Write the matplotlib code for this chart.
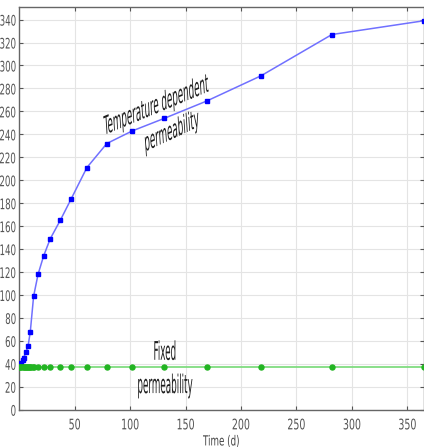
import matplotlib
matplotlib.use("Agg")
import matplotlib.pyplot as plt
from matplotlib import font_manager
from matplotlib.patheffects import AbstractPathEffect
from matplotlib.transforms import Affine2D

# Look for a condensed sans font
cond_file = None
for pref in ["DejaVuSansCondensed.ttf", "LiberationSansNarrow-Regular", "Condensed-Regular"]:
    for f in font_manager.fontManager.ttflist:
        base = f.fname.split("/")[-1]
        if pref in base:
            cond_file = f.fname
            break
    if cond_file:
        break


def fp(size):
    if cond_file:
        return font_manager.FontProperties(fname=cond_file, size=size)
    return font_manager.FontProperties(family="DejaVu Sans", size=size)


class Squeeze(AbstractPathEffect):
    """Compress a text horizontally (in display space), like the reference's narrow lettering."""

    def __init__(self, sx, anchor="center"):
        super().__init__()
        self.sx = sx
        self.anchor = anchor

    def draw_path(self, renderer, gc, tpath, affine, rgbFace=None):
        ext = affine.transform_path(tpath).get_extents()
        if self.anchor == "right":
            cx = ext.x1
        elif self.anchor == "left":
            cx = ext.x0
        else:
            cx = 0.5 * (ext.x0 + ext.x1)
        t = affine + Affine2D().translate(-cx, 0).scale(self.sx, 1).translate(cx, 0)
        renderer.draw_path(gc, tpath, t, rgbFace)


# Data
temp_t = [0, 1, 2, 3, 4, 6, 8, 10, 13, 17, 22, 28, 37, 47, 61, 79, 102, 131, 169, 218, 282, 365]
temp_v = [38, 39, 41, 43, 45.5, 50, 55.5, 68, 99, 118, 134, 149, 165, 184, 211, 232, 243, 254, 269, 291, 327, 339]
fixed_t = [0, 1, 2, 3, 4, 5, 6, 7, 8, 9, 10, 11, 12, 13, 17, 22, 28, 37, 47, 61, 79, 102, 131, 169, 218, 282, 365]
fixed_v = [37, 37, 37, 37, 37, 37, 37, 37, 37, 37, 37, 37, 37, 37, 37, 37, 37, 37, 37, 37, 37, 37, 37, 37, 37, 37, 37]
x_ticks = [50, 100, 150, 200, 250, 300, 350]
y_ticks = list(range(0, 341, 20))

fig = plt.figure(figsize=(4.24, 4.47), dpi=100)
ax = fig.add_axes([0.0453, 0.0834, 0.9547, 0.901])

ax.plot(temp_t, temp_v, color="#7070ff", lw=1.1, marker="s", ms=3.0,
        mfc="#0000ff", mec="#0000ff", zorder=3)
ax.plot(fixed_t, fixed_v, color="#80dc80", lw=1.3, marker="o", ms=3.6,
        mfc="#22b422", mec="#22b422", zorder=3)

ax.set_xlim(0, 365)
ax.set_ylim(0, 351)
ax.set_xticks(x_ticks)
ax.set_yticks(y_ticks)
ax.grid(True, color="#e4e4e4", lw=0.8)
ax.set_axisbelow(True)
ax.tick_params(direction="in", length=3, colors="#555555",
               labelcolor="#555555", top=True, right=True)
ax.tick_params(axis="x", pad=5.5)
ax.tick_params(axis="y", pad=2.0)
for lab in ax.get_xticklabels():
    lab.set_fontproperties(fp(10.5))
    lab.set_path_effects([Squeeze(0.72, "center")])
for lab in ax.get_yticklabels():
    lab.set_fontproperties(fp(10.5))
    lab.set_path_effects([Squeeze(0.66, "right")])
for s in ax.spines.values():
    s.set_color("#666666")
    s.set_linewidth(1.0)

xl = ax.set_xlabel("Time (d)", fontproperties=fp(10), color="#444444", labelpad=1.5)
xl.set_path_effects([Squeeze(0.7)])

ann_kw = dict(fontproperties=fp(18.5), color="#1e1e1e")
t1 = ax.text(124.4, 264.6, "Temperature dependent", rotation=9, ha="center", va="center",
             rotation_mode="anchor", **ann_kw)
t2 = ax.text(138, 242, "permeability", rotation=10, ha="center", va="center",
             rotation_mode="anchor", **ann_kw)
t3 = ax.text(131.3, 43.5, "Fixed", ha="center", va="baseline", **ann_kw)
t4 = ax.text(131.3, 14.5, "permeability", ha="center", va="baseline", **ann_kw)
for t in (t1, t2, t3, t4):
    t.set_path_effects([Squeeze(0.38)])

fig.savefig("out.png", dpi=100)
